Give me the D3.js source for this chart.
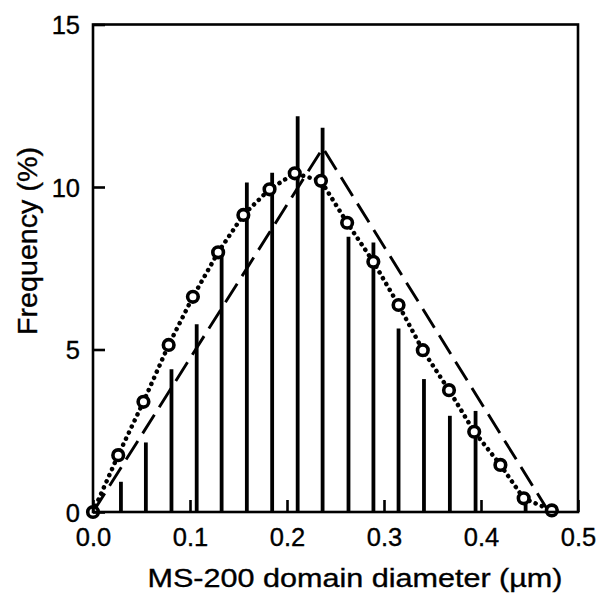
<!DOCTYPE html>
<html>
<head>
<meta charset="utf-8">
<script src="https://cdn.jsdelivr.net/npm/d3@7"></script>
<style>
  html, body { margin: 0; padding: 0; background: #fff; }
  svg { display: block; }
  text { font-family: "Liberation Sans", Arial, Helvetica, sans-serif; fill: #000; stroke: #000; stroke-width: 0.35px; }
</style>
</head>
<body>
<svg id="chart" width="600" height="593"></svg>
<script>
// ---- data ----
const barX = [0.0288, 0.0545, 0.0809, 0.1069, 0.1326, 0.1586, 0.1847, 0.2110, 0.2367, 0.2634, 0.2891, 0.3150, 0.3412, 0.3679, 0.3944, 0.4460];
const barY = [0.93, 2.14, 4.39, 5.78, 8.1, 10.14, 10.44, 12.18, 11.82, 8.47, 8.29, 5.65, 4.09, 2.96, 3.11, 0.6];

const pointX = [0, 0.026, 0.052, 0.078, 0.103, 0.129, 0.155, 0.182, 0.208, 0.235, 0.262, 0.289, 0.315, 0.340, 0.367, 0.393, 0.420, 0.444, 0.473];
const pointY = [0, 1.75, 3.39, 5.14, 6.62, 7.99, 9.14, 9.93, 10.42, 10.19, 8.90, 7.70, 6.37, 4.98, 3.75, 2.47, 1.45, 0.42, 0.05];

const triX = [0, 0.237, 0.470];
const triY = [0, 11.2, 0];

const xTicks = [0, 0.1, 0.2, 0.3, 0.4, 0.5];
const yTicks = [0, 5, 10, 15];
const xTitle = "MS-200 domain diameter (\u00B5m)";
const yTitle = "Frequency (%)";

// ---- layout ----
const svg = d3.select("#chart");
const mLeft = 93, mRight = 578, mTop = 24.5, mBottom = 512;

const x = d3.scaleLinear().domain([0, 0.5]).range([mLeft, mRight]);
const y = d3.scaleLinear().domain([0, 15]).range([mBottom, mTop]);

// bars (vertical lines)
svg.append("g").selectAll("line")
  .data(barX.map((v, i) => ({ x: v, y: barY[i] })))
  .join("line")
  .attr("x1", d => x(d.x)).attr("x2", d => x(d.x))
  .attr("y1", y(0)).attr("y2", d => y(d.y))
  .attr("stroke", "#000").attr("stroke-width", 3.8);

// dashed triangle
const tri = triX.map((v, i) => [v, triY[i]]);
svg.append("path")
  .attr("d", d3.line().x(d => x(d[0])).y(d => y(d[1]))(tri))
  .attr("fill", "none").attr("stroke", "#000")
  .attr("stroke-width", 2.9).attr("stroke-dasharray", "22,9");

// dotted line through points
const pts = pointX.map((v, i) => [v, pointY[i]]);
svg.append("path")
  .attr("d", d3.line().x(d => x(d[0])).y(d => y(d[1]))(pts))
  .attr("fill", "none").attr("stroke", "#000")
  .attr("stroke-width", 4.5).attr("stroke-linecap", "round")
  .attr("stroke-dasharray", "0.1,6.6");

// open circles
svg.append("g").selectAll("circle")
  .data(pts)
  .join("circle")
  .attr("cx", d => x(d[0])).attr("cy", d => y(d[1]))
  .attr("r", 5.3)
  .attr("fill", "#fff").attr("stroke", "#000").attr("stroke-width", 3.6);

// frame
svg.append("rect")
  .attr("x", mLeft).attr("y", mTop)
  .attr("width", mRight - mLeft).attr("height", mBottom - mTop)
  .attr("fill", "none").attr("stroke", "#000").attr("stroke-width", 2.6);

// axes (inward ticks)
const xAxis = svg.append("g")
  .attr("transform", `translate(0,${mBottom})`)
  .call(d3.axisBottom(x).tickValues(xTicks).tickFormat(d3.format(".1f")).tickSize(-12).tickPadding(16));
const yAxis = svg.append("g")
  .attr("transform", `translate(${mLeft},0)`)
  .call(d3.axisLeft(y).tickValues(yTicks).tickFormat(d3.format("d")).tickSize(-12).tickPadding(13));

[xAxis, yAxis].forEach(g => {
  g.select(".domain").remove();
  g.selectAll(".tick line").attr("stroke", "#000").attr("stroke-width", 2.6);
  g.selectAll(".tick text")
    .style("font-family", "'Liberation Sans', Arial, Helvetica, sans-serif")
    .style("font-size", "25.5px").attr("fill", "#000");
});
yAxis.selectAll(".tick text").attr("dy", "0.36em");

// axis titles
svg.append("text")
  .attr("x", 355).attr("y", 587)
  .attr("text-anchor", "middle")
  .attr("textLength", 415).attr("lengthAdjust", "spacingAndGlyphs")
  .style("font-size", "25.5px")
  .text(xTitle);

svg.append("text")
  .attr("transform", "translate(37,241) rotate(-90)")
  .attr("text-anchor", "middle")
  .attr("textLength", 188).attr("lengthAdjust", "spacingAndGlyphs")
  .style("font-size", "28px")
  .text(yTitle);
</script>
</body>
</html>
